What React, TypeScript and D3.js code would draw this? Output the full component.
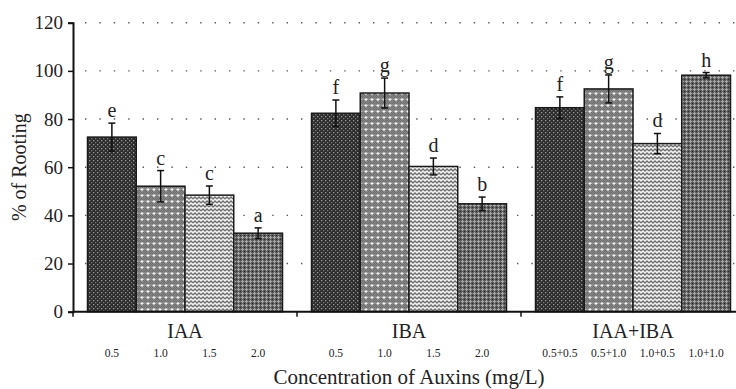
import * as d3 from "d3";
import { useEffect, useRef } from "react";

const groups = ["IAA", "IBA", "IAA+IBA"];
const subLabels = [
  ["0.5", "1.0", "1.5", "2.0"],
  ["0.5", "1.0", "1.5", "2.0"],
  ["0.5+0.5", "0.5+1.0", "1.0+0.5", "1.0+1.0"],
];
const rooting = [
  [72.5, 52.1, 48.4, 32.6],
  [82.4, 90.8, 60.3, 44.8],
  [84.7, 92.5, 69.8, 98.2],
];
const errors = [
  [5.8, 6.5, 3.8, 2.2],
  [5.5, 6.2, 3.5, 2.8],
  [4.5, 5.8, 4.2, 1.1],
];
const letters = [
  ["e", "c", "c", "a"],
  ["f", "g", "d", "b"],
  ["f", "g", "d", "h"],
];
const yTicks = [0, 20, 40, 60, 80, 100, 120];

export default function App() {
  const ref = useRef<SVGSVGElement>(null);

  useEffect(() => {
    const width = 736;
    const height = 389;
    const margin = { top: 22.7, left: 73, bottom: 77.3 };
    const font = "'Liberation Serif', 'DejaVu Serif', serif";

    const svg = d3.select(ref.current).attr("width", width).attr("height", height);
    svg.selectAll("*").remove();

    // patterns for the four concentrations
    const defs = svg.append("defs");
    const p1 = defs.append("pattern").attr("id", "p0").attr("width", 4).attr("height", 4).attr("patternUnits", "userSpaceOnUse");
    p1.append("rect").attr("width", 4).attr("height", 4).attr("fill", "#2c2c2c");
    p1.append("rect").attr("x", 0).attr("y", 0).attr("width", 1.3).attr("height", 1.3).attr("fill", "#9a9a9a");
    p1.append("rect").attr("x", 2).attr("y", 2).attr("width", 1.3).attr("height", 1.3).attr("fill", "#7a7a7a");

    const p2 = defs.append("pattern").attr("id", "p1").attr("width", 6).attr("height", 6).attr("patternUnits", "userSpaceOnUse");
    p2.append("rect").attr("width", 6).attr("height", 6).attr("fill", "#8a8a8a");
    [[0, 0], [2, 0], [4, 0], [1, 1], [3, 1], [5, 1], [0, 4], [4, 4], [1, 5], [5, 5]].forEach(([x, y]) =>
      p2.append("rect").attr("x", x).attr("y", y).attr("width", 1).attr("height", 1).attr("fill", "#6a6a6a"));
    p2.append("rect").attr("x", 2.5).attr("y", 2).attr("width", 1).attr("height", 3).attr("fill", "#f4f4f4");
    p2.append("rect").attr("x", 1.5).attr("y", 3).attr("width", 3).attr("height", 1).attr("fill", "#f4f4f4");

    const p3 = defs.append("pattern").attr("id", "p2").attr("width", 8).attr("height", 8).attr("patternUnits", "userSpaceOnUse");
    p3.append("rect").attr("width", 8).attr("height", 8).attr("fill", "#f2f2f2");
    p3.append("path").attr("d", "M0,3 L2,1 L4,3 L6,1 L8,3 M0,7 L2,5 L4,7 L6,5 L8,7")
      .attr("fill", "none").attr("stroke", "#6e6e6e").attr("stroke-width", 1.3);

    const p4 = defs.append("pattern").attr("id", "p3").attr("width", 4).attr("height", 4).attr("patternUnits", "userSpaceOnUse");
    p4.append("rect").attr("width", 4).attr("height", 4).attr("fill", "#5c5c5c");
    p4.append("rect").attr("x", 1).attr("y", 0).attr("width", 1).attr("height", 3).attr("fill", "#a8a8a8");
    p4.append("rect").attr("x", 0).attr("y", 1).attr("width", 3).attr("height", 1).attr("fill", "#a8a8a8");
    p4.append("rect").attr("x", 3).attr("y", 3).attr("width", 1).attr("height", 1).attr("fill", "#2a2a2a");

    const y = d3.scaleLinear().domain([0, 120]).range([height - margin.bottom, margin.top]);
    const gx = d3.scaleBand().domain(groups).range([margin.left, margin.left + 672]);
    const sx = d3.scaleBand<number>().domain([0, 1, 2, 3]).range([14.5, gx.bandwidth() - 14.5]);

    // dotted gridlines
    svg.append("g")
      .selectAll("line")
      .data(yTicks.filter(d => d > 0))
      .join("line")
      .attr("x1", margin.left + 12)
      .attr("x2", width)
      .attr("y1", d => y(d))
      .attr("y2", d => y(d))
      .attr("stroke", "#555")
      .attr("stroke-width", 1.4)
      .attr("stroke-dasharray", "1.4,13");

    const bars = svg.append("g");
    groups.forEach((g, gi) => {
      const gg = bars.append("g").attr("transform", `translate(${gx(g)},0)`);
      gg.selectAll("rect")
        .data(rooting[gi])
        .join("rect")
        .attr("x", (d, i) => sx(i)!)
        .attr("y", d => y(d))
        .attr("width", sx.bandwidth())
        .attr("height", d => y(0) - y(d))
        .attr("fill", (d, i) => `url(#p${i})`)
        .attr("stroke", "#1a1a1a")
        .attr("stroke-width", 1.5);

      // error bars
      const eb = gg.selectAll("g.err")
        .data(rooting[gi])
        .join("g")
        .attr("class", "err")
        .attr("transform", (d, i) => `translate(${sx(i)! + sx.bandwidth() / 2},0)`);
      eb.append("line")
        .attr("y1", (d, i) => y(d + errors[gi][i]))
        .attr("y2", (d, i) => y(d - errors[gi][i]))
        .attr("stroke", "#111").attr("stroke-width", 1.5);
      eb.append("line")
        .attr("x1", -3.5).attr("x2", 3.5)
        .attr("y1", (d, i) => y(d + errors[gi][i]))
        .attr("y2", (d, i) => y(d + errors[gi][i]))
        .attr("stroke", "#111").attr("stroke-width", 1.5);
      eb.append("line")
        .attr("x1", -3.5).attr("x2", 3.5)
        .attr("y1", (d, i) => y(d - errors[gi][i]))
        .attr("y2", (d, i) => y(d - errors[gi][i]))
        .attr("stroke", "#111").attr("stroke-width", 1.5);
      eb.append("text")
        .attr("y", (d, i) => y(d + errors[gi][i]) - 6)
        .attr("text-anchor", "middle")
        .attr("font-family", font)
        .attr("font-size", 20)
        .attr("fill", "#222")
        .text((d, i) => letters[gi][i]);

      // concentration labels
      gg.selectAll("text.sub")
        .data(subLabels[gi])
        .join("text")
        .attr("class", "sub")
        .attr("x", (d, i) => sx(i)! + sx.bandwidth() / 2)
        .attr("y", 357)
        .attr("text-anchor", "middle")
        .attr("font-family", font)
        .attr("font-size", 11.5)
        .attr("fill", "#222")
        .text(d => d);
    });

    // y axis
    const yAxis = svg.append("g")
      .attr("transform", `translate(${margin.left},0)`)
      .call(d3.axisLeft(y).tickValues(yTicks).tickSize(5).tickPadding(5));
    yAxis.select(".domain").attr("stroke", "#111").attr("stroke-width", 2);
    yAxis.selectAll(".tick line").attr("stroke", "#111").attr("stroke-width", 1.5);
    yAxis.selectAll(".tick text")
      .attr("font-family", font).attr("font-size", 19).attr("fill", "#222");

    // x axis
    const xAxis = svg.append("g")
      .attr("transform", `translate(0,${y(0)})`)
      .call(d3.axisBottom(gx).tickSize(0).tickFormat(() => ""));
    xAxis.select(".domain").attr("stroke", "#111").attr("stroke-width", 2).attr("d", `M${margin.left},0H${width}`);
    xAxis.selectAll(".tick").remove();
    xAxis.selectAll("line.boundary")
      .data(groups)
      .join("line")
      .attr("class", "boundary")
      .attr("x1", d => gx(d)!)
      .attr("x2", d => gx(d)!)
      .attr("y1", 0)
      .attr("y2", 5)
      .attr("stroke", "#111")
      .attr("stroke-width", 1.5);

    svg.append("g")
      .selectAll("text")
      .data(groups)
      .join("text")
      .attr("x", d => gx(d)! + gx.bandwidth() / 2)
      .attr("y", 338)
      .attr("text-anchor", "middle")
      .attr("font-family", font)
      .attr("font-size", 20)
      .attr("fill", "#222")
      .text(d => d);

    svg.append("text")
      .attr("x", 409)
      .attr("y", 384)
      .attr("text-anchor", "middle")
      .attr("font-family", font)
      .attr("font-size", 21)
      .attr("fill", "#222")
      .text("Concentration of Auxins (mg/L)");

    svg.append("text")
      .attr("transform", `translate(26,${(y(0) + y(120)) / 2}) rotate(-90)`)
      .attr("text-anchor", "middle")
      .attr("font-family", font)
      .attr("font-size", 20)
      .attr("fill", "#222")
      .text("% of Rooting");
  }, []);

  return (
    <div style={{ position: "absolute", left: 0, top: 0 }}>
      <svg ref={ref} style={{ display: "block", background: "#fff" }}></svg>
    </div>
  );
}
